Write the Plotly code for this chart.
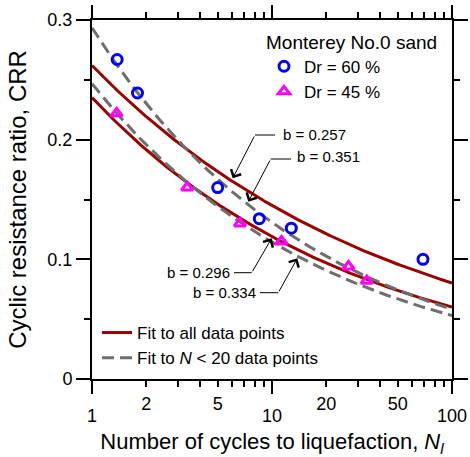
import numpy as np
import plotly.graph_objects as go

# ---- data ----
n_dr60 = [1.38, 1.79, 4.99, 8.5, 12.8, 69.0]
crr_dr60 = [0.267, 0.239, 0.160, 0.134, 0.126, 0.100]
n_dr45 = [1.37, 3.38, 6.64, 11.3, 26.6, 33.6]
crr_dr45 = [0.222, 0.160, 0.130, 0.115, 0.094, 0.082]

# power-law fits CRR = a * N^-b (a read at N = 1, b from labels)
fit_all_a = [0.262, 0.2352]
fit_all_b = [0.257, 0.296]
fit_n20_a = [0.2935, 0.2468]
fit_n20_b = [0.351, 0.334]

x_major = [1, 10, 100]
x_major_text = ["1", "10", "100"]
x_minor_lab = [2, 5, 20, 50]
x_minor_lab_text = ["2", "5", "20", "50"]
x_minor = [2, 3, 4, 5, 6, 7, 8, 9, 20, 30, 40, 50, 60, 70, 80, 90]
y_major = [0, 0.1, 0.2, 0.3]
y_major_text = ["0", "0.1", "0.2", "0.3"]
y_minor = [0.05, 0.15, 0.25]

FONT = "Liberation Sans, Arial, sans-serif"
RED = "#9B0000"
GREY = "#6E6E6E"

W, H = 470, 457
L, R, T, B = 92, 18, 20, 78
PW, PH = W - L - R, H - T - B


def px(x):
    return (x - L) / PW


def py(y):
    return (H - B - y) / PH


nn = np.logspace(0, 2, 200)


def fit_curves(a_list, b_list):
    xs, ys = [], []
    for a, b in zip(a_list, b_list):
        xs += list(nn) + [None]
        ys += list(a * nn ** (-b)) + [None]
    return xs, ys


fig = go.Figure()

xa, ya = fit_curves(fit_all_a, fit_all_b)
fig.add_trace(go.Scatter(x=xa, y=ya, mode="lines", line=dict(color=RED, width=3),
                         name="Fit to all data points", legend="legend2"))
xd, yd = fit_curves(fit_n20_a, fit_n20_b)
fig.add_trace(go.Scatter(x=xd, y=yd, mode="lines",
                         line=dict(color=GREY, width=3, dash="12px,6px"),
                         name="Fit to <i>N</i> &lt; 20 data points", legend="legend2"))

fig.add_trace(go.Scatter(x=n_dr60, y=crr_dr60, mode="markers", name="Dr = 60 %",
                         marker=dict(symbol="circle-open", size=10, color="#0000FF",
                                     line=dict(width=3, color="#0000FF"))))
fig.add_trace(go.Scatter(x=n_dr45, y=crr_dr45, mode="markers", name="Dr = 45 %",
                         marker=dict(symbol="triangle-up-open", size=10, color="#FF00FF",
                                     line=dict(width=3, color="#FF00FF"))))

axis_common = dict(showgrid=False, zeroline=False, linecolor="black", linewidth=2,
                   tickcolor="black", tickwidth=2, ticks="outside", mirror="ticks",
                   automargin=False,
                   tickfont=dict(family=FONT, size=18, color="black"))

fig.update_layout(
    width=W, height=H,
    margin=dict(l=L, r=R, t=T, b=B),
    paper_bgcolor="white", plot_bgcolor="white",
    font=dict(family=FONT, color="black"),
    xaxis=dict(type="log", range=[0, 2], tickmode="array", tickvals=x_major,
               ticktext=x_major_text, ticklen=13, ticklabelstandoff=6,
               minor=dict(tickmode="array", tickvals=x_minor, ticks="outside",
                          ticklen=6, tickwidth=2, tickcolor="black"),
               title=dict(text="Number of cycles to liquefaction, <i>N</i><sub><i>l</i></sub>",
                          font=dict(family=FONT, size=22), standoff=11),
               **axis_common),
    xaxis2=dict(type="log", range=[0, 2], overlaying="x", anchor="y", side="bottom",
                tickmode="array", tickvals=x_minor_lab, ticktext=x_minor_lab_text,
                ticks="", showline=False, showgrid=False, zeroline=False,
                ticklabelstandoff=12, automargin=False,
                tickfont=dict(family=FONT, size=18, color="black")),
    yaxis=dict(range=[0, 0.3], tickmode="array", tickvals=y_major, ticktext=y_major_text,
               ticklen=14,
               minor=dict(tickmode="array", tickvals=y_minor, ticks="outside",
                          ticklen=6, tickwidth=2, tickcolor="black"),
               title=dict(text="Cyclic resistance ratio, CRR",
                          font=dict(family=FONT, size=24), standoff=14),
               **axis_common),
    legend=dict(x=px(264), y=py(24), xanchor="left", yanchor="top",
                bgcolor="rgba(0,0,0,0)", borderwidth=0,
                title=dict(text="Monterey No.0 sand", font=dict(family=FONT, size=19)),
                font=dict(family=FONT, size=17)),
    legend2=dict(x=px(97), y=py(315), xanchor="left", yanchor="top",
                 bgcolor="rgba(0,0,0,0)", borderwidth=0, tracegroupgap=0,
                 font=dict(family=FONT, size=17)),
)

# dummy trace so xaxis2 is drawn
fig.add_trace(go.Scatter(x=[1], y=[None], xaxis="x2", yaxis="y", showlegend=False,
                         hoverinfo="skip"))

# labels with elbow arrows: (text, text_x, text_y, anchor, seg_x0, seg_x1, seg_y, tip_x, tip_y)
labels = [
    ("b = 0.257", 280.5, 134.0, "left", 255.0, 275.0, 135.0, 232.7, 178.3),
    ("b = 0.351", 295.0, 156.7, "left", 270.7, 291.0, 159.0, 248.3, 201.7),
    ("b = 0.296", 232.0, 272.3, "right", 234.0, 251.7, 272.7, 271.7, 238.3),
    ("b = 0.334", 257.7, 292.3, "right", 260.0, 278.3, 292.7, 297.3, 258.3),
]
for text, tx, ty, anc, sx0, sx1, sy, tipx, tipy in labels:
    fig.add_annotation(x=px(tx), y=py(ty), xref="paper", yref="paper", text=text,
                       showarrow=False, xanchor=anc, yanchor="middle",
                       font=dict(family=FONT, size=15, color="black"))
    fig.add_shape(type="line", xref="paper", yref="paper", x0=px(sx0), x1=px(sx1),
                  y0=py(sy), y1=py(sy), line=dict(color="black", width=1))
    elbow_x = sx1 if anc == "right" else sx0
    fig.add_annotation(x=px(tipx), y=py(tipy), xref="paper", yref="paper", text="",
                       showarrow=True, arrowhead=4, arrowsize=2.2, arrowwidth=1,
                       arrowcolor="black", ax=elbow_x - tipx, ay=sy - tipy,
                       standoff=0, startstandoff=0)

fig.write_html("out.html")
